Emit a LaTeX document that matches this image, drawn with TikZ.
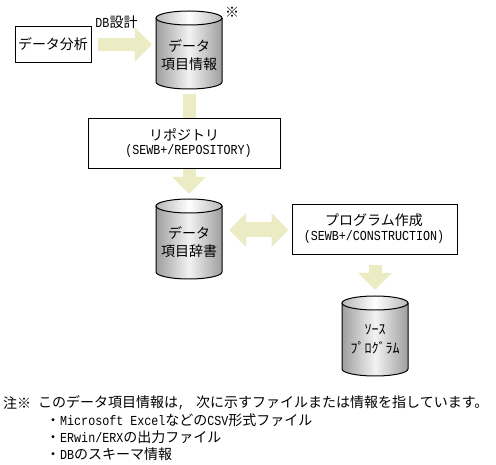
\documentclass[tikz,border=0pt]{standalone}
\usepackage{fontspec}
\usetikzlibrary{arrows.meta,calc}
\setmainfont{Noto Sans CJK JP}
\newfontfamily\latfont[FakeStretch=0.85]{Liberation Mono}
\newcommand{\lat}[1]{{\fontsize{13.75}{15}\latfont #1}}
\definecolor{arrowfill}{HTML}{EBEBC4}
\tikzset{
  big/.style={font=\fontsize{14}{18}\selectfont,inner sep=0pt,align=center},
  plain/.style={font=\fontsize{14}{17}\selectfont,inner sep=0pt,anchor=west},
  boxnode/.style={draw=black,line width=1pt,fill=white,inner sep=0pt,align=center,font=\fontsize{14}{17}\selectfont},
  blockarrow/.style={draw=arrowfill,line width=13pt,-{Triangle[length=17pt,width=33pt,fill=arrowfill]}},
  blockdouble/.style={draw=arrowfill,line width=15pt,{Triangle[length=17pt,width=33pt,fill=arrowfill]}-{Triangle[length=17pt,width=33pt,fill=arrowfill]}},
  blockbar/.style={draw=arrowfill,line width=13pt},
  cylbody/.style={left color=black!38,right color=black!38,middle color=black!5},
  cyltop/.style={left color=black!28,right color=black!28,middle color=white},
}
\newcommand{\cyl}[6]{% name, x-left, x-right, y-top, y-bottom, text
  \pgfmathsetmacro{\cx}{(#2+#3)/2}
  \pgfmathsetmacro{\rx}{(#3-#2)/2}
  \path[cylbody] (#2,#4+7) -- (#2,#5-7) arc[start angle=180,end angle=360,x radius=\rx,y radius=-7] -- (#3,#4+7) arc[start angle=0,end angle=180,x radius=\rx,y radius=7] -- cycle;
  \draw[line width=1pt] (#2,#4+7) -- (#2,#5-7) arc[start angle=180,end angle=360,x radius=\rx,y radius=-7] -- (#3,#4+7);
  \draw[line width=1pt,cyltop] (\cx,#4+7) ellipse[x radius=\rx,y radius=7];
  \node[minimum width=#3-#2,minimum height=#5-#4,inner sep=0pt,align=center] (#1) at (\cx,{(#4+#5)/2}) {};
  #6
}
\begin{document}
\begin{tikzpicture}[x=1pt,y=-1pt]
\useasboundingbox (0,0) rectangle (496,465);
\fill[white] (0,0) rectangle (496,465);

% boxes
\node[boxnode,minimum width=76pt,minimum height=36pt] (analysis) at (53,44.5) {データ分析};
\node[boxnode,minimum width=192pt,minimum height=50pt,font=\fontsize{14}{16}\selectfont] (repo) at (184,144) {};
\node[big] (repoa) at (184,135) {リポジトリ};
\node[inner sep=0pt] (repob) at (188.5,151) {\lat{(SEWB+/REPOSITORY)}};
\node[boxnode,minimum width=165pt,minimum height=50pt] (prog) at (374.5,230) {};
\node[big] (proga) at (374,220) {プログラム作成};
\node[inner sep=0pt] (progb) at (374,237) {\lat{(SEWB+/CONSTRUCTION)}};

% cylinders
\cyl{dataA}{156}{222}{11}{89}{
  \node[big] (dataAa) at (189,46) {データ};
  \node[big] (dataAb) at (189,64) {項目情報};}
\cyl{dataB}{156}{222}{199}{279}{
  \node[big] (dataBa) at (189,233) {データ};
  \node[big] (dataBb) at (189,251) {項目辞書};}
\cyl{src}{342}{408}{296}{376}{
  \node[inner sep=0pt,font=\fontsize{14}{15}\selectfont] (srca) at (375,330) {ｿｰｽ};
  \node[inner sep=0pt,font=\fontsize{14}{15}\selectfont] (srcb) at (375,348) {ﾌﾟﾛｸﾞﾗﾑ};}

% block connectors
\draw[blockarrow,shorten <=6pt,shorten >=4pt] (analysis.east) -- (analysis.east -| dataA.west);
\draw[blockbar,shorten <=5pt] (dataA.south) -- (repo.north -| dataA.south);
\draw[blockarrow,shorten >=5pt] (repo.south -| dataB.north) -- (dataB.north);
\draw[blockdouble,shorten <=7pt,shorten >=3pt] (dataB.east |- prog.west) -- (prog.west);
\draw[blockarrow,shorten <=10pt,shorten >=6pt] (src.north |- prog.south) -- (src.north);

% labels
\node[inner sep=0pt,font=\fontsize{14}{15}\selectfont] (dblabel) at (116.5,22) {\lat{DB}設計};
\node[inner sep=0pt,font=\fontsize{14}{15}\selectfont] (mark) at (232,12) {※};

% note
\node[plain] (n0) at (3,403) {注※};
\node[plain] (n1) at (38,403) {このデータ項目情報は\lat{,}\hspace{11pt}次に示すファイルまたは情報を指しています。};
\node[plain] (n2) at (46,420) {・\lat{Microsoft Excel}などの\lat{CSV}形式ファイル};
\node[plain] (n3) at (46,437) {・\lat{ERwin/ERX}の出力ファイル};
\node[plain] (n4) at (46,454) {・\lat{DB}のスキーマ情報};
\end{tikzpicture}
\end{document}
